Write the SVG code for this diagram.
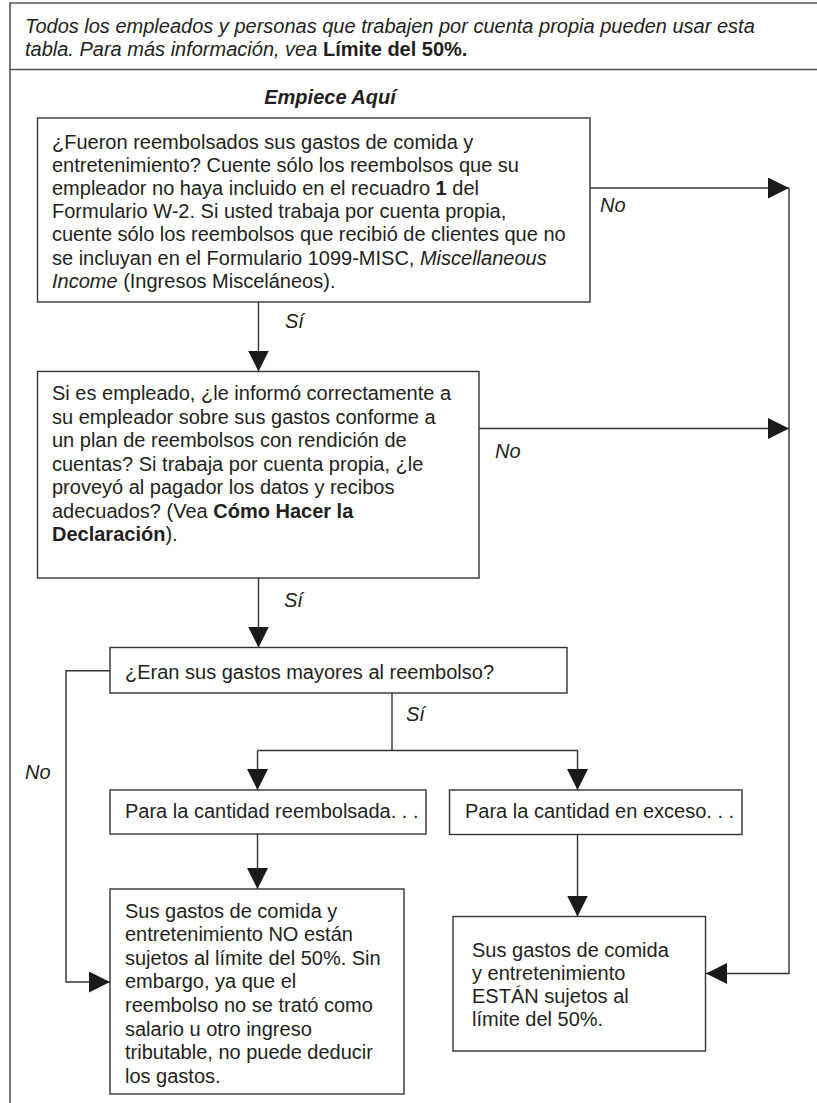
<svg xmlns="http://www.w3.org/2000/svg" width="817" height="1103" viewBox="0 0 817 1103">
<style>
text{font-family:"Liberation Sans",Arial,sans-serif;font-size:20px;fill:#231f20}
.it{font-style:italic}
.b{font-weight:bold}
.box{fill:#fff;stroke:#333;stroke-width:1.4}
.frame{fill:none;stroke:#555;stroke-width:1.6}
.con{fill:none;stroke:#333;stroke-width:1.4}
</style>
<defs>
<marker id="ah" markerUnits="userSpaceOnUse" markerWidth="21" markerHeight="21" viewBox="0 0 21 21" refX="21" refY="10.5" orient="auto">
<path d="M0,0 L21,10.5 L0,21 Z" fill="#1a1a1a"/>
</marker>
</defs>
<rect width="817" height="1103" fill="#fff"/>
<g id="frame">
<path class="frame" d="M817,3 H10 V1103 M10,69.5 H817"/>
<text x="25" y="33" class="it">Todos los empleados y personas que trabajen por cuenta propia pueden usar esta</text>
<text x="25" y="56"><tspan class="it">tabla. Para más información, vea </tspan><tspan class="b">Límite del 50%.</tspan></text>
<text x="330" y="103.5" text-anchor="middle" class="b it">Empiece Aquí</text>
</g>
<g id="connectors">
<path class="con" d="M590,188 H789" marker-end="url(#ah)"/>
<path class="con" d="M479,428.5 H789" marker-end="url(#ah)"/>
<path class="con" d="M789,188 V973.5 H706" marker-end="url(#ah)"/>
<path class="con" d="M258.5,302 V371.5" marker-end="url(#ah)"/>
<path class="con" d="M258.5,578 V647.5" marker-end="url(#ah)"/>
<path class="con" d="M110,670.7 H66 V982 H110" marker-end="url(#ah)"/>
<path class="con" d="M392,693 V750.5 M257.5,750.5 H577.5"/>
<path class="con" d="M257.5,750.5 V790" marker-end="url(#ah)"/>
<path class="con" d="M577.5,750.5 V790" marker-end="url(#ah)"/>
<path class="con" d="M257.5,834 V889" marker-end="url(#ah)"/>
<path class="con" d="M577.5,834.5 V916.5" marker-end="url(#ah)"/>
<text x="600" y="212" class="it">No</text>
<text x="495" y="458" class="it">No</text>
<text x="25" y="779" class="it">No</text>
<text x="285" y="328" class="it">Sí</text>
<text x="284" y="607" class="it">Sí</text>
<text x="406" y="720.5" class="it">Sí</text>
</g>
<g id="node1">
<rect class="box" x="37.5" y="118" width="552.5" height="184"/>
<text x="52" y="148.5">¿Fueron reembolsados sus gastos de comida y<tspan x="52" dy="23.2">entretenimiento? Cuente sólo los reembolsos que su</tspan><tspan x="52" dy="23.2">empleador no haya incluido en el recuadro </tspan><tspan class="b">1</tspan><tspan> del</tspan><tspan x="52" dy="23.2">Formulario W-2. Si usted trabaja por cuenta propia,</tspan><tspan x="52" dy="23.2">cuente sólo los reembolsos que recibió de clientes que no</tspan><tspan x="52" dy="23.2">se incluyan en el Formulario 1099-MISC, </tspan><tspan class="it">Miscellaneous</tspan><tspan x="52" dy="23.2" class="it">Income</tspan><tspan> (Ingresos Misceláneos).</tspan></text>
</g>
<g id="node2">
<rect class="box" x="37.5" y="371.5" width="441.5" height="206.5"/>
<text x="52" y="400">Si es empleado, ¿le informó correctamente a<tspan x="52" dy="23.5">su empleador sobre sus gastos conforme a</tspan><tspan x="52" dy="23.5">un plan de reembolsos con rendición de</tspan><tspan x="52" dy="23.5">cuentas? Si trabaja por cuenta propia, ¿le</tspan><tspan x="52" dy="23.5">proveyó al pagador los datos y recibos</tspan><tspan x="52" dy="23.5">adecuados? (Vea </tspan><tspan class="b">Cómo Hacer la</tspan><tspan x="52" dy="23.5" class="b">Declaración</tspan><tspan>).</tspan></text>
</g>
<g id="node3">
<rect class="box" x="110" y="647.5" width="457" height="45.5"/>
<text x="125" y="679">¿Eran sus gastos mayores al reembolso?</text>
</g>
<g id="node4">
<rect class="box" x="110" y="790" width="316" height="44"/>
<text x="125" y="818">Para la cantidad reembolsada. . .</text>
</g>
<g id="node5">
<rect class="box" x="449.5" y="790" width="292.5" height="44.5"/>
<text x="465" y="818">Para la cantidad en exceso. . .</text>
</g>
<g id="node6">
<rect class="box" x="110" y="889" width="294" height="205"/>
<text x="125" y="917.5">Sus gastos de comida y<tspan x="125" dy="23.6">entretenimiento NO están</tspan><tspan x="125" dy="23.6">sujetos al límite del 50%. Sin</tspan><tspan x="125" dy="23.6">embargo, ya que el</tspan><tspan x="125" dy="23.6">reembolso no se trató como</tspan><tspan x="125" dy="23.6">salario u otro ingreso</tspan><tspan x="125" dy="23.6">tributable, no puede deducir</tspan><tspan x="125" dy="23.6">los gastos.</tspan></text>
</g>
<g id="node7">
<rect class="box" x="453" y="916.5" width="252.5" height="134.5"/>
<text x="472" y="957">Sus gastos de comida<tspan x="472" dy="23">y entretenimiento</tspan><tspan x="472" dy="23">ESTÁN sujetos al</tspan><tspan x="472" dy="23">límite del 50%.</tspan></text>
</g>
</svg>
